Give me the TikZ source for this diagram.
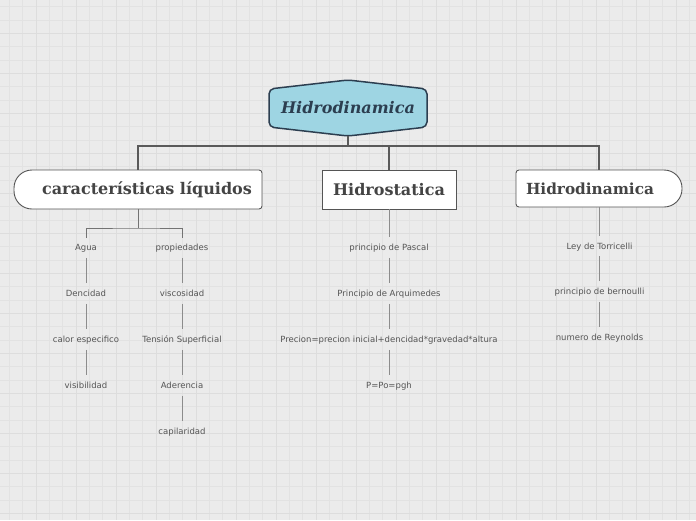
\documentclass[tikz,border=0pt]{standalone}
\usepackage{fontspec}
\setmainfont{DejaVu Serif}
\setsansfont{DejaVu Sans}
\usetikzlibrary{calc}
\definecolor{bgc}{HTML}{EBEBEB}
\definecolor{gridminor}{HTML}{E2E2E2}
\definecolor{gridmajor}{HTML}{DDDDDD}
\definecolor{rootfill}{HTML}{9ED5E3}
\definecolor{rootline}{HTML}{2C3E50}
\definecolor{headtext}{HTML}{444444}
\definecolor{boxline}{HTML}{555555}
\definecolor{leaftext}{HTML}{555555}
\definecolor{leafline}{HTML}{8C8C8C}
\definecolor{topline}{HTML}{5A5A5A}
\tikzset{
  rootnode/.style={minimum width=158pt, minimum height=56pt, inner sep=0pt, text=rootline, font=\fontsize{16}{19}\selectfont\bfseries\itshape},
  headnode/.style={inner sep=0pt, text=headtext, font=\fontsize{16}{19}\selectfont\bfseries},
  leaf/.style={inner xsep=2pt, inner ysep=6pt, text height=6.5pt, text depth=2pt, text=leaftext, font=\sffamily\fontsize{8.5}{10}\selectfont},
  conn/.style={draw=topline, line width=1.3pt},
  leafconn/.style={draw=leafline, line width=0.9pt},
  boxdraw/.style={draw=boxline, line width=0.9pt, fill=white},
  rootdraw/.style={draw=rootline, line width=1.5pt, fill=rootfill, rounded corners=5pt},
  minorgrid/.style={draw=gridminor, line width=0.8pt},
  majorgrid/.style={draw=gridmajor, line width=1pt},
}
\begin{document}
\begin{tikzpicture}[x=1pt,y=-1pt]
\useasboundingbox (0,0) rectangle (696,520);
\fill[bgc] (0,0) rectangle (696,520);
% grid
\foreach \i in {0,...,52} {\draw[minorgrid] ({9.333+13.333*\i},0) -- ({9.333+13.333*\i},520);}
\foreach \i in {0,...,39} {\draw[minorgrid] (0,{6.667+13.333*\i}) -- (696,{6.667+13.333*\i});}
\foreach \i in {0,...,17} {\draw[majorgrid] ({-4+40*\i},0) -- ({-4+40*\i},520);}
\foreach \i in {0,...,13} {\draw[majorgrid] (0,{-6.667+40*\i}) -- (696,{-6.667+40*\i});}

% root shape
\draw[rootdraw] (269,89) -- (348,80) -- (427,89) -- (427,127) -- (348,136) -- (269,127) -- cycle;
\node[rootnode] (root) at (348,108) {Hidrodinamica};

% box 1: left side rounded
\draw[boxdraw] (32,170) -- (259,170) .. controls (260.7,170) and (262,171.3) .. (262,173)
  -- (262,206) .. controls (262,207.7) and (260.7,209) .. (259,209)
  -- (32,209) .. controls (22.06,209) and (14,200.94) .. (14,191)
  -- (14,188) .. controls (14,178.06) and (22.06,170) .. (32,170) -- cycle;
\node[headnode, minimum width=248pt, minimum height=39pt] (c1) at (138,189.5) {\raisebox{-1pt}{\hspace*{18pt}características líquidos}};

% box 2: rectangle
\draw[boxdraw] (322.5,170.5) rectangle (456.5,209.5);
\node[headnode, minimum width=134pt, minimum height=39pt] (c2) at (389,189.5) {\raisebox{-1pt}{Hidrostatica}};

% box 3: right side rounded
\draw[boxdraw] (519,170) -- (664,170) .. controls (673.94,170) and (682,178.06) .. (682,188)
  -- (682,189) .. controls (682,198.94) and (673.94,207) .. (664,207)
  -- (519,207) .. controls (517.3,207) and (516,205.7) .. (516,204)
  -- (516,173) .. controls (516,171.3) and (517.3,170) .. (519,170) -- cycle;
\node[headnode, minimum width=166pt, minimum height=37pt, font=\fontsize{15.3}{18}\selectfont\bfseries] (c3) at (599,188.5) {Hidrodinamica\hspace*{18pt}};

% top connectors
\coordinate (bus) at (348,146);
\draw[conn] (root.south) -- (bus);
\draw[conn] (c1.north) |- (bus) -| (c3.north);
\draw[conn] (c2.north) -- (c2.north |- bus);

% branch 1
\node[leaf] (agua) at (86,248.5) {Agua};
\node[leaf] (dens) at (86,294.5) {Dencidad};
\node[leaf] (calor) at (86,340.5) {calor especifico};
\node[leaf] (visi) at (86,386.5) {visibilidad};
\node[leaf] (prop) at (182,248.5) {propiedades};
\node[leaf] (visc) at (182,294.5) {viscosidad};
\node[leaf] (tens) at (182,340.5) {Tensión Superficial};
\node[leaf] (ader) at (182,386.5) {Aderencia};
\node[leaf] (capi) at (182,432.5) {capilaridad};
\coordinate (b1) at (138,228);
\draw[leafconn, draw=topline!85] (c1.south) -- (b1);
\draw[leafconn, draw=topline!85] (agua.north) |- (b1) -| (prop.north);
\draw[leafconn] ([yshift=1pt]agua.south) -- ([yshift=1pt]dens.north);
\draw[leafconn] ([yshift=1pt]dens.south) -- ([yshift=1pt]calor.north);
\draw[leafconn] ([yshift=1pt]calor.south) -- ([yshift=1pt]visi.north);
\draw[leafconn] ([yshift=1pt]prop.south) -- ([yshift=1pt]visc.north);
\draw[leafconn] ([yshift=1pt]visc.south) -- ([yshift=1pt]tens.north);
\draw[leafconn] ([yshift=1pt]tens.south) -- ([yshift=1pt]ader.north);
\draw[leafconn] ([yshift=1pt]ader.south) -- ([yshift=1pt]capi.north);

% branch 2
\node[leaf] (pascal) at (389,248.5) {principio de Pascal};
\node[leaf] (arqui) at (389,294.5) {Principio de Arquimedes};
\node[leaf] (prec) at (389,340.5) {Precion=precion inicial+dencidad*gravedad*altura};
\node[leaf] (ppo) at (389,386.5) {P=Po=pgh};
\draw[leafconn] (c2.south) -- ([yshift=1pt]pascal.north);
\draw[leafconn] ([yshift=1pt]pascal.south) -- ([yshift=1pt]arqui.north);
\draw[leafconn] ([yshift=1pt]arqui.south) -- ([yshift=1pt]prec.north);
\draw[leafconn] ([yshift=1pt]prec.south) -- ([yshift=1pt]ppo.north);

% branch 3
\node[leaf] (torr) at (599.5,247) {Ley de Torricelli};
\node[leaf] (bern) at (599.5,292.5) {principio de bernoulli};
\node[leaf] (reyn) at (599.5,338.5) {numero de Reynolds};
\draw[leafconn] (c3.south -| torr) -- ([yshift=1pt]torr.north);
\draw[leafconn] ([yshift=1pt]torr.south) -- ([yshift=1pt]bern.north);
\draw[leafconn] ([yshift=1pt]bern.south) -- ([yshift=1pt]reyn.north);
\end{tikzpicture}
\end{document}
